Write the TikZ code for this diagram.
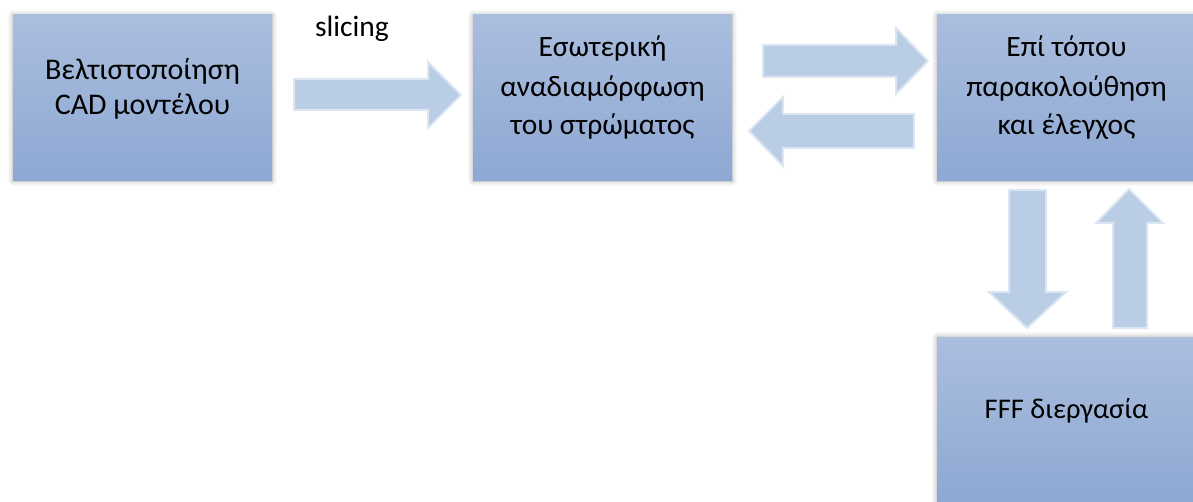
\documentclass[tikz,border=0pt]{standalone}
\usepackage{fontspec}
\setmainfont{Carlito}
\usetikzlibrary{shadows.blur}
\definecolor{boxtop}{HTML}{AABEDE}
\definecolor{boxbot}{HTML}{8EA8D3}
\definecolor{arrfill}{HTML}{B9CDE5}
\definecolor{arredge}{HTML}{DCE6F2}
\tikzset{
  stagebox/.style={rectangle, inner sep=0pt, draw=none,
    top color=boxtop, bottom color=boxbot,
    blur shadow={shadow xshift=0pt, shadow yshift=0pt,
      shadow blur radius=5pt, shadow opacity=35}},
  blockarrow/.style={fill=arrfill, draw=arredge, line width=2pt, line join=miter},
  lbl/.style={anchor=base, inner sep=0pt},
  bigtxt/.style={lbl, font=\fontsize{30}{36}\selectfont},
  midtxt/.style={lbl, font=\fontsize{29.5}{35}\selectfont},
  fsttxt/.style={lbl, font=\fontsize{28.5}{34}\selectfont},
}
\begin{document}
\begin{tikzpicture}[x=1pt, y=-1pt]
  \useasboundingbox (0,0) rectangle (1193,502);

  % process stages
  \node[stagebox, minimum width=259pt, minimum height=166pt] (cad)  at (142.5,98) {};
  \node[stagebox, minimum width=259pt, minimum height=166pt] (layer) at (602.5,98) {};
  \node[stagebox, minimum width=259pt, minimum height=166pt] (mon)  at (1066.5,98) {};
  \node[stagebox, minimum width=259pt, minimum height=166pt] (fff)  at (1066.5,420) {};

  % block arrows between the stages
  \path[blockarrow] (294,79) -- (428,79) -- (428,62) -- (461,95) -- (428,128)
    -- (428,110) -- (294,110) -- cycle;
  \path[blockarrow] (763,45) -- (896,45) -- (896,28) -- (928,61) -- (896,94)
    -- (896,77) -- (763,77) -- cycle;
  \path[blockarrow] (914,114) -- (783,114) -- (783,97) -- (749,131) -- (783,166)
    -- (783,148) -- (914,148) -- cycle;
  \path[blockarrow] (1009,190) -- (1046,190) -- (1046,292) -- (1066,292)
    -- (1027,328) -- (989,292) -- (1009,292) -- cycle;
  \path[blockarrow] (1113,328) -- (1147,328) -- (1147,223) -- (1163,223)
    -- (1129,189) -- (1096,223) -- (1113,223) -- cycle;

  % labels
  \node[midtxt] (slc) at (352,37) {slicing};

  \node[bigtxt] (cad1) at (142.5,80)  {Βελτιστοποίηση};
  \node[bigtxt] (cad2) at (142.5,115) {CAD μοντέλου};

  \node[midtxt] (lay1) at (602.5,57)  {Εσωτερική};
  \node[midtxt] (lay2) at (602.5,97)  {αναδιαμόρφωση};
  \node[midtxt] (lay3) at (602.5,135) {του στρώματος};

  \node[midtxt] (mon1) at (1066.5,57)  {Επί τόπου};
  \node[midtxt] (mon2) at (1066.5,97)  {παρακολούθηση};
  \node[midtxt] (mon3) at (1066.5,135) {και έλεγχος};

  \node[fsttxt] (fff1) at (1066.5,418) {FFF διεργασία};
\end{tikzpicture}
\end{document}
